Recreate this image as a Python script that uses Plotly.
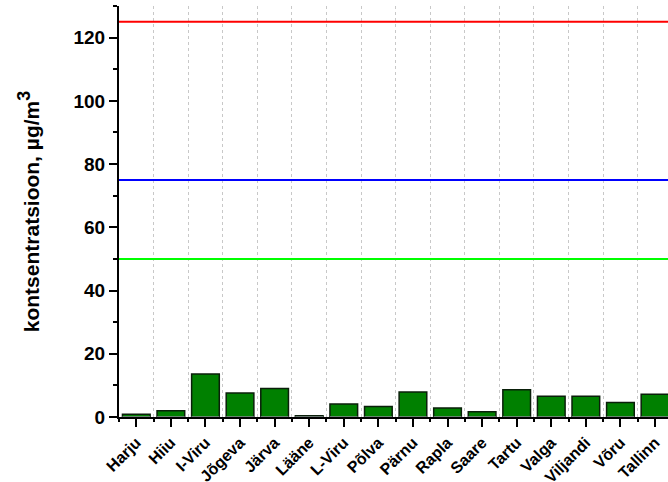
import plotly.graph_objects as go

counties = ["Harju", "Hiiu", "I-Viru", "Jõgeva", "Järva", "Lääne", "L-Viru", "Põlva",
            "Pärnu", "Rapla", "Saare", "Tartu", "Valga", "Viljandi", "Võru", "Tallinn"]
concentration = [0.9, 2.0, 13.6, 7.6, 9.0, 0.4, 4.1, 3.3, 7.9, 2.85, 1.7, 8.65, 6.6, 6.6, 4.6, 7.2]
limit_values = [125, 75, 50]
limit_colors = ["#ff0000", "#0000ff", "#00ff00"]

fig = go.Figure()
fig.add_trace(go.Bar(x=counties, y=concentration, marker=dict(color="#008000", line=dict(color="#0a1f0a", width=1.5)),
                     width=0.8, showlegend=False))
# helper invisible trace for boundary ticks / grid
fig.add_trace(go.Bar(x=counties, y=[0]*len(counties), xaxis="x2", marker=dict(color="rgba(0,0,0,0)"),
                     showlegend=False, hoverinfo="skip"))

for v, c in zip(limit_values, limit_colors):
    fig.add_shape(type="line", xref="paper", x0=0, x1=1, yref="y", y0=v, y1=v,
                  line=dict(color=c, width=2), layer="above")

n = len(counties)
xr = [-0.5, n - 0.5 - 4.3 / 34.6]
fam = "Liberation Sans, Arial, sans-serif"

fig.update_layout(
    width=668, height=482, margin=dict(l=119, r=0, t=6, b=65, autoexpand=False),
    plot_bgcolor="white", paper_bgcolor="white",
    bargap=0.2,
    xaxis=dict(type="category", categoryarray=counties, range=xr, showline=True, linecolor="black", linewidth=2,
               ticks="outside", ticklen=8, tickwidth=2, tickcolor="black", tickangle=-45, automargin=False,
               tickfont=dict(family=fam, size=16, color="black", weight="bold"),
               showgrid=False, zeroline=False),
    xaxis2=dict(type="category", categoryarray=counties, range=xr, overlaying="x", side="bottom",
                tickson="boundaries", ticks="outside", ticklen=4, tickwidth=2, tickcolor="black", automargin=False,
                showticklabels=False, showgrid=True, griddash="dot", gridcolor="#c8c8c8", gridwidth=1,
                showline=False, zeroline=False),
    yaxis=dict(range=[0, 130], dtick=20, tick0=0, showline=True, linecolor="black", linewidth=2,
               ticks="outside", ticklen=8, tickwidth=2, tickcolor="black", automargin=False,
               minor=dict(dtick=10, ticks="outside", ticklen=4, tickwidth=2, tickcolor="black", showgrid=False),
               showgrid=False, zeroline=False, tickfont=dict(family=fam, size=19, color="black", weight="bold"),
               title=dict(text="kontsentratsioon, µg/m<sup><span style=\"font-size:18px\">3</span></sup>",
                          font=dict(family=fam, size=21, color="black", weight="bold"), standoff=28)),
)
fig.write_html("out.html", config={"displayModeBar": False},
               post_script="document.body.style.margin='0';document.body.style.overflow='hidden';")
